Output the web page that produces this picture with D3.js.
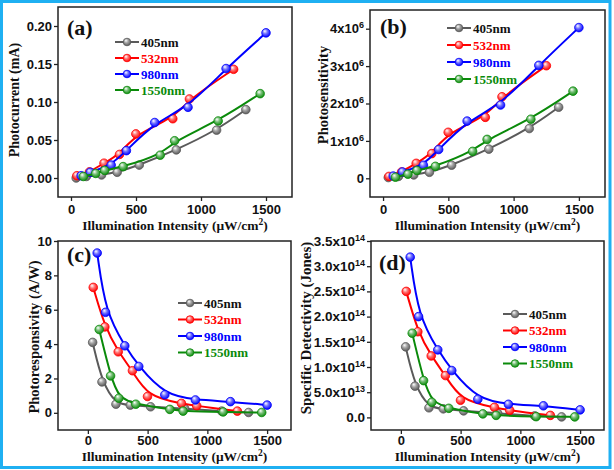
<!DOCTYPE html>
<html>
<head>
<meta charset="utf-8">
<script src="https://cdn.jsdelivr.net/npm/d3@7"></script>
<style>
  body { margin: 0; background: #fff; }
  svg { display: block; font-family: 'Liberation Serif', 'Times New Roman', serif; font-weight: bold; }
</style>
</head>
<body>
<svg id="chart" width="614" height="470"></svg>
<script>
// series names + colours
const series = ['405nm', '532nm', '980nm', '1550nm']
const colors = ['#5a5a5a', '#ff0000', '#0000ff', '#0a8a0a']
const textColors = ['#111111', '#ff0000', '#0000ff', '#0a8a0a']

// illumination intensity (uW/cm2) for each wavelength
const x405 = [40, 118, 235, 355, 525, 810, 1120, 1345]
const x532 = [45, 142, 254, 373, 499, 783, 911, 1251]
const x980 = [78, 148, 309, 426, 644, 900, 1193, 1500]
const x1550 = [95, 190, 259, 401, 686, 797, 1132, 1455]

// (a) photocurrent (mA)
const current405 = [0.000, 0.002, 0.004, 0.0075, 0.017, 0.037, 0.063, 0.090]
const current532 = [0.003, 0.008, 0.0195, 0.031, 0.058, 0.078, 0.104, 0.143]
const current980 = [0.003, 0.0075, 0.017, 0.036, 0.073, 0.093, 0.144, 0.191]
const current1550 = [0.002, 0.006, 0.010, 0.015, 0.030, 0.049, 0.075, 0.111]

// (b) photosensitivity
const sens405 = [0.02e6, 0.05e6, 0.09e6, 0.16e6, 0.35e6, 0.78e6, 1.33e6, 1.90e6]
const sens532 = [0.05e6, 0.17e6, 0.40e6, 0.66e6, 1.23e6, 1.63e6, 2.18e6, 3.01e6]
const sens980 = [0.06e6, 0.17e6, 0.35e6, 0.77e6, 1.53e6, 1.96e6, 3.02e6, 4.03e6]
const sens1550 = [0.03e6, 0.11e6, 0.21e6, 0.32e6, 0.72e6, 1.04e6, 1.58e6, 2.33e6]

// (c) photoresponsivity (A/W)
const resp405 = [4.1, 1.8, 0.5, 0.45, 0.35, 0.25, 0.1, 0.02]
const resp532 = [7.3, 5.0, 3.55, 2.45, 0.95, 0.55, 0.4, 0.1]
const resp980 = [9.3, 5.85, 3.9, 2.7, 1.05, 0.75, 0.65, 0.45]
const resp1550 = [4.85, 2.15, 0.85, 0.5, 0.2, 0.1, 0.05, 0.02]

// (d) specific detectivity (Jones)
const det405 = [1.40e14, 0.62e14, 0.19e14, 0.17e14, 0.13e14, 0.08e14, 0.03e14, 0.01e14]
const det532 = [2.50e14, 1.70e14, 1.22e14, 0.83e14, 0.34e14, 0.20e14, 0.14e14, 0.04e14]
const det980 = [3.18e14, 2.00e14, 1.34e14, 0.93e14, 0.36e14, 0.26e14, 0.23e14, 0.15e14]
const det1550 = [1.67e14, 0.73e14, 0.30e14, 0.18e14, 0.07e14, 0.04e14, 0.015e14, 0.01e14]

const xTicks = [0, 500, 1000, 1500]
const xs = [x405, x532, x980, x1550]

const svg = d3.select('#chart')

// outer cyan frame
svg.append('rect')
  .attr('x', 1.5).attr('y', 1.5)
  .attr('width', 608.5).attr('height', 466)
  .attr('fill', 'none')
  .attr('stroke', '#1fb0f2')
  .attr('stroke-width', 3)

// ball-like marker gradients
const defs = svg.append('defs')
colors.forEach((c, i) => {
  const g = defs.append('radialGradient')
    .attr('id', 'ball' + i)
    .attr('cx', '45%').attr('cy', '40%').attr('r', '60%')
    .attr('fx', '35%').attr('fy', '30%')
  g.append('stop').attr('offset', '0%').attr('stop-color', '#ffffff')
  g.append('stop').attr('offset', '45%').attr('stop-color', d3.interpolateRgb(c, '#fff')(0.45))
  g.append('stop').attr('offset', '100%').attr('stop-color', c)
})

const panels = [
  {
    label: '(a)', ys: [current405, current532, current980, current1550],
    xd: [-100, 1700], xr: [58, 292], yd: [-0.025, 0.225], yr: [197, 7],
    yTicks: [0, 0.05, 0.1, 0.15, 0.2], yfmt: d => [d3.format('.2f')(d)], tfs: 13,
    ytitle: 'Photocurrent (mA)', ytx: 14, yty: 100, ytfs: 14,
    lab: [67, 35], leg: [115, 42, 16], xtb: 214, xtt: 230
  },
  {
    label: '(b)', ys: [sens405, sens532, sens980, sens1550],
    xd: [-100, 1700], xr: [370, 605], yd: [-0.5e6, 4.5e6], yr: [197, 10],
    yTicks: [0, 1e6, 2e6, 3e6, 4e6], yfmt: d => d === 0 ? ['0'] : [(d / 1e6) + 'x10', '6'], tfs: 13,
    ytitle: 'Photosensitivity', ytx: 323, yty: 95, ytfs: 14.5,
    lab: [380, 34], leg: [447, 28, 17], xtb: 214, xtt: 230
  },
  {
    label: '(c)', ys: [resp405, resp532, resp980, resp1550],
    xd: [-250, 1700], xr: [58, 291], yd: [-1, 10], yr: [430, 241],
    yTicks: [0, 2, 4, 6, 8, 10], yfmt: d => [String(d)], tfs: 13,
    ytitle: 'Photoresponsivity (A/W)', ytx: 34, yty: 337, ytfs: 14.5,
    lab: [67, 262], leg: [178, 303, 16.5], xtb: 445, xtt: 461
  },
  {
    label: '(d)', ys: [det405, det532, det980, det1550],
    xd: [-250, 1700], xr: [371, 604], yd: [-0.25e14, 3.5e14], yr: [430, 241],
    yTicks: [0, 0.5e14, 1e14, 1.5e14, 2e14, 2.5e14, 3e14, 3.5e14],
    yfmt: d => {
      if (d === 0) return ['0.0']
      const e = Math.floor(Math.log10(d))
      return [(d / Math.pow(10, e)).toFixed(1) + 'x10', String(e)]
    },
    tfs: 13.5,
    ytitle: 'Specific Detectivity (Jones)', ytx: 306, yty: 328, ytfs: 15,
    lab: [379, 270], leg: [503, 314, 16.5], xtb: 445, xtt: 461
  }
]

panels.forEach(p => {
  const x = d3.scaleLinear().domain(p.xd).range(p.xr)
  const y = d3.scaleLinear().domain(p.yd).range(p.yr)
  const g = svg.append('g')

  // x axis
  const xa = g.append('g')
    .attr('transform', `translate(0,${p.yr[0]})`)
    .call(d3.axisBottom(x).tickValues(xTicks).tickSize(4).tickSizeOuter(0).tickFormat(d3.format('d')))
  xa.select('.domain').remove()
  xa.selectAll('line').attr('stroke', '#222').attr('stroke-width', 1.3)
  xa.selectAll('text')
    .attr('y', null).attr('dy', null)
    .attr('transform', `translate(0,${p.xtb - p.yr[0]})`)
    .attr('font-size', 13).attr('font-family', null).attr('fill', '#111')

  // y axis
  const ya = g.append('g')
    .attr('transform', `translate(${p.xr[0]},0)`)
    .call(d3.axisLeft(y).tickValues(p.yTicks).tickSize(4).tickSizeOuter(0))
  ya.select('.domain').remove()
  ya.selectAll('line').attr('stroke', '#222').attr('stroke-width', 1.3)
  ya.selectAll('text')
    .attr('font-size', p.tfs).attr('font-family', null).attr('fill', '#111')
    .attr('x', -6)
    .each(function (d) {
      const parts = p.yfmt(d)
      const t = d3.select(this).text(null)
      t.append('tspan').text(parts[0])
      if (parts[1]) {
        t.append('tspan').attr('font-size', 9).attr('dy', -5).text(parts[1])
      }
    })

  // plot frame
  g.append('rect')
    .attr('x', p.xr[0]).attr('y', p.yr[1])
    .attr('width', p.xr[1] - p.xr[0]).attr('height', p.yr[0] - p.yr[1])
    .attr('fill', 'none').attr('stroke', '#222').attr('stroke-width', 1.5)

  // titles
  const xt = g.append('text')
    .attr('x', (p.xr[0] + p.xr[1]) / 2).attr('y', p.xtt)
    .attr('text-anchor', 'middle').attr('font-size', 13.5).attr('fill', '#111')
  xt.append('tspan').text('Illumination Intensity (\u03bcW/cm')
  xt.append('tspan').attr('font-size', 9.5).attr('dy', -5).text('2')
  xt.append('tspan').attr('dy', 5).text(')')

  g.append('text')
    .attr('transform', `translate(${p.ytx},${p.yty}) rotate(-90)`)
    .attr('text-anchor', 'middle').attr('dy', '0.35em')
    .attr('font-size', p.ytfs).attr('fill', '#111')
    .text(p.ytitle)

  g.append('text')
    .attr('x', p.lab[0]).attr('y', p.lab[1])
    .attr('font-size', 22).attr('fill', '#111')
    .text(p.label)

  // series lines + markers
  const line = d3.line()
    .x(d => x(d[0]))
    .y(d => y(d[1]))
    .curve(d3.curveBasis)

  series.forEach((s, i) => {
    const pts = xs[i].map((v, j) => [v, p.ys[i][j]])
    g.append('path')
      .datum(pts)
      .attr('d', line)
      .attr('fill', 'none')
      .attr('stroke', colors[i])
      .attr('stroke-width', 2)
    g.selectAll('.m' + i)
      .data(pts)
      .enter().append('circle')
      .attr('class', 'm' + i)
      .attr('cx', d => x(d[0]))
      .attr('cy', d => y(d[1]))
      .attr('r', 4.3)
      .attr('fill', `url(#ball${i})`)
      .attr('stroke', colors[i])
      .attr('stroke-width', 0.8)
  })

  // legend
  series.forEach((s, i) => {
    const ly = p.leg[1] + i * p.leg[2]
    const lx = p.leg[0]
    g.append('line')
      .attr('x1', lx).attr('x2', lx + 24)
      .attr('y1', ly).attr('y2', ly)
      .attr('stroke', colors[i]).attr('stroke-width', 2)
    g.append('circle')
      .attr('cx', lx + 12).attr('cy', ly).attr('r', 3.8)
      .attr('fill', `url(#ball${i})`)
      .attr('stroke', colors[i]).attr('stroke-width', 0.8)
    g.append('text')
      .attr('x', lx + 26).attr('y', ly).attr('dy', '0.35em')
      .attr('font-size', 13).attr('fill', textColors[i])
      .text(s)
  })
})
</script>
</body>
</html>
